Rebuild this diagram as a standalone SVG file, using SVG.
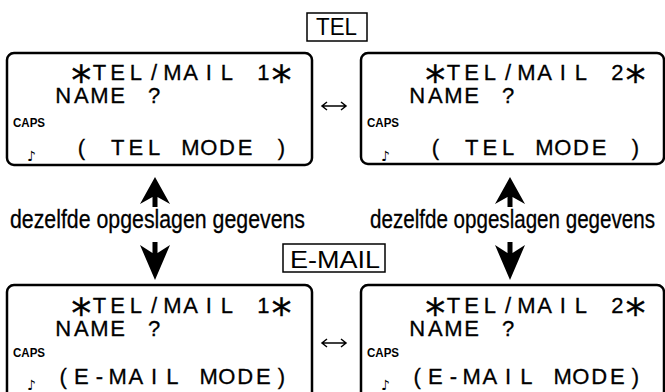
<svg xmlns="http://www.w3.org/2000/svg" width="665" height="392" viewBox="0 0 665 392">
<style>
.bg{fill:#fff}
.lcd{fill:none;stroke:#000;stroke-width:2.5}
.lbl{fill:none;stroke:#000;stroke-width:1.5}
.t{font-family:"Liberation Sans",Arial,sans-serif;font-size:22px;fill:#000;text-anchor:middle;stroke:#000;stroke-width:0.3}
.ast{font-family:"DejaVu Sans",sans-serif;font-size:40px}
.caps{font-family:"Liberation Sans",Arial,sans-serif;font-size:12px;font-weight:bold;fill:#000}
.note{font-family:"DejaVu Sans",sans-serif;font-size:14px;font-weight:bold;fill:#000}
.big{font-family:"Liberation Sans",Arial,sans-serif;font-size:26px;fill:#000;stroke:#000;stroke-width:0.3}
.tag{font-family:"Liberation Sans",Arial,sans-serif;font-size:23px;fill:#000}
.dbl{fill:none;stroke:#000;stroke-width:1.5}
.arr{fill:#000}
</style>
<rect class="bg" width="665" height="392"/>

<g id="label-tel">
<rect class="lbl" x="307" y="13" width="60" height="28"/>
<text class="tag" x="316" y="35" textLength="41" lengthAdjust="spacingAndGlyphs">TEL</text>
</g>

<g id="label-email">
<rect class="lbl" x="283" y="244" width="102" height="28"/>
<text class="tag" x="290" y="268" textLength="90" lengthAdjust="spacingAndGlyphs">E-MAIL</text>
</g>

<g id="tel-1">
<rect class="lcd" x="7" y="53" width="305" height="112" rx="7"/>
<text class="t" y="80"><tspan class="ast" x="81.3" y="95">*</tspan><tspan x="99.5 117.7 135.9 154.1 172.3 190.5 208.7 226.9" y="80">TEL/MAIL</tspan><tspan x="263.3" y="80">1</tspan><tspan class="ast" x="281.5" y="95">*</tspan></text>
<text class="t" y="103"><tspan x="63.1 81.3 99.5 117.7">NAME</tspan><tspan x="154.1">?</tspan></text>
<text class="caps" x="13" y="127" textLength="32" lengthAdjust="spacingAndGlyphs">CAPS</text>
<text class="t" y="155"><tspan x="81.3">(</tspan><tspan x="117.7 135.9 154.1">TEL</tspan><tspan x="190.5 208.7 226.9 245.1">MODE</tspan><tspan x="281.5">)</tspan></text>
<text class="note" x="27" y="161">♪</text>
</g>

<g id="tel-2">
<rect class="lcd" x="361" y="53" width="303" height="111" rx="7"/>
<text class="t" y="80"><tspan class="ast" x="435.3" y="95">*</tspan><tspan x="453.5 471.7 489.9 508.1 526.3 544.5 562.7 580.9" y="80">TEL/MAIL</tspan><tspan x="617.3" y="80">2</tspan><tspan class="ast" x="635.5" y="95">*</tspan></text>
<text class="t" y="103"><tspan x="417.1 435.3 453.5 471.7">NAME</tspan><tspan x="508.1">?</tspan></text>
<text class="caps" x="367" y="127" textLength="32" lengthAdjust="spacingAndGlyphs">CAPS</text>
<text class="t" y="155"><tspan x="435.3">(</tspan><tspan x="471.7 489.9 508.1">TEL</tspan><tspan x="544.5 562.7 580.9 599.1">MODE</tspan><tspan x="635.5">)</tspan></text>
<text class="note" x="381" y="161">♪</text>
</g>

<g id="mail-1">
<rect class="lcd" x="7" y="285" width="305" height="130" rx="7"/>
<text class="t" y="313"><tspan class="ast" x="81.3" y="328">*</tspan><tspan x="99.5 117.7 135.9 154.1 172.3 190.5 208.7 226.9" y="313">TEL/MAIL</tspan><tspan x="263.3" y="313">1</tspan><tspan class="ast" x="281.5" y="328">*</tspan></text>
<text class="t" y="336"><tspan x="63.1 81.3 99.5 117.7">NAME</tspan><tspan x="154.1">?</tspan></text>
<text class="caps" x="13" y="357" textLength="32" lengthAdjust="spacingAndGlyphs">CAPS</text>
<text class="t" y="384"><tspan x="63.1 81.3 99.5 117.7 135.9 154.1 172.3">(E-MAIL</tspan><tspan x="208.7 226.9 245.1 263.3 281.5">MODE)</tspan></text>
<text class="note" x="27" y="390">♪</text>
</g>

<g id="mail-2">
<rect class="lcd" x="361" y="285" width="303" height="130" rx="7"/>
<text class="t" y="313"><tspan class="ast" x="435.3" y="328">*</tspan><tspan x="453.5 471.7 489.9 508.1 526.3 544.5 562.7 580.9" y="313">TEL/MAIL</tspan><tspan x="617.3" y="313">2</tspan><tspan class="ast" x="635.5" y="328">*</tspan></text>
<text class="t" y="336"><tspan x="417.1 435.3 453.5 471.7">NAME</tspan><tspan x="508.1">?</tspan></text>
<text class="caps" x="367" y="357" textLength="32" lengthAdjust="spacingAndGlyphs">CAPS</text>
<text class="t" y="384"><tspan x="417.1 435.3 453.5 471.7 489.9 508.1 526.3">(E-MAIL</tspan><tspan x="562.7 580.9 599.1 617.3 635.5">MODE)</tspan></text>
<text class="note" x="381" y="390">♪</text>
</g>

<g id="same-data-left">
<text class="big" x="10" y="228" textLength="295" lengthAdjust="spacingAndGlyphs">dezelfde opgeslagen gegevens</text>
</g>
<g id="same-data-right">
<text class="big" x="370" y="228" textLength="285" lengthAdjust="spacingAndGlyphs">dezelfde opgeslagen gegevens</text>
</g>

<g id="connectors">
<path class="dbl" d="M322,106 H346 M327,102 L322,106 L327,110 M341,102 L346,106 L341,110"/>
<path class="dbl" d="M322,343 H346 M327,339 L322,343 L327,347 M341,339 L346,343 L341,347"/>
<path class="arr" d="M155,177 L170,204 L157.5,197 V207 H152.5 V197 L140,204 Z"/>
<path class="arr" d="M152.5,242 H157.5 V253 L170,245 L155,280 L140,245 L152.5,253 Z"/>
<path class="arr" d="M510,177 L525,204 L512.5,197 V207 H507.5 V197 L495,204 Z"/>
<path class="arr" d="M507.5,242 H512.5 V253 L525,245 L510,280 L495,245 L507.5,253 Z"/>
</g>
</svg>
